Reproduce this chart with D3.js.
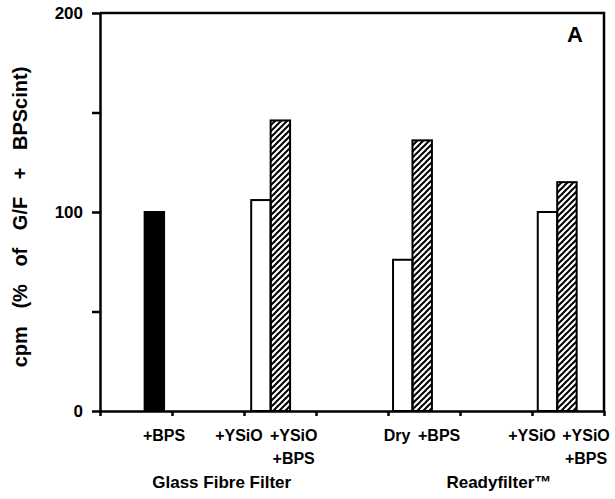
<!DOCTYPE html>
<html lang="en">
<head>
    <meta charset="UTF-8">
    <title>cpm bar chart A</title>
    <style>
        body { margin: 0; background: #fff; }
        svg text { font-family: "Liberation Sans", Arial, Helvetica, sans-serif; font-weight: bold; fill: #000; }
    </style>
</head>
<body>
    <div id="chart"></div>

    <script src="https://cdn.jsdelivr.net/npm/d3@7"></script>
    <script>
        // data
        const barLabels = [['+BPS'], ['+YSiO'], ['+YSiO', '+BPS'], ['Dry'], ['+BPS'], ['+YSiO'], ['+YSiO', '+BPS']];
        const barValues = [100, 106, 146, 76, 136, 100, 115];
        const barKinds = ['solid', 'open', 'hatched', 'open', 'hatched', 'open', 'hatched'];
        const groupNames = ['Glass Fibre Filter', 'Readyfilter™'];
        const yTicks = [0, 50, 100, 150, 200];
        const yTickLabels = [0, 100, 200];

        const w = 615;
        const h = 499;

        // layout (in x-axis units, 7 tick intervals)
        const barStart = [0.62, 2.10, 2.37, 4.07, 4.34, 6.08, 6.35];
        const barW = 0.27;
        const labelPos = [0.89, 1.93, 2.69, 4.125, 4.71, 6.0, 6.75];
        const groupPos = [1.69, 5.54];

        const xScale = d3.scaleLinear()
            .domain([0, 7])
            .range([100, 604]);
        const yScale = d3.scaleLinear()
            .domain([0, 200])
            .range([411, 13]);

        const svg = d3.select('#chart')
            .append('svg')
            .attr('width', w)
            .attr('height', h);

        svg.append('defs')
            .append('pattern')
            .attr('id', 'hatch')
            .attr('patternUnits', 'userSpaceOnUse')
            .attr('width', 6)
            .attr('height', 6)
            .append('path')
            .attr('d', 'M0,6 L6,0 M-1.5,1.5 L1.5,-1.5 M4.5,7.5 L7.5,4.5')
            .attr('stroke', '#000')
            .attr('stroke-width', 2);

        const fillFor = k => k === 'solid' ? '#000' : (k === 'hatched' ? 'url(#hatch)' : '#fff');

        svg.selectAll('rect.bar')
            .data(barValues)
            .enter()
            .append('rect')
            .attr('class', 'bar')
            .attr('x', (d, i) => xScale(barStart[i]))
            .attr('width', xScale(barW) - xScale(0))
            .attr('y', d => yScale(d))
            .attr('height', d => yScale(0) - yScale(d))
            .attr('fill', (d, i) => fillFor(barKinds[i]))
            .attr('stroke', '#000')
            .attr('stroke-width', 2);

        // axes
        const yAxis = d3.axisLeft(yScale)
            .tickValues(yTicks)
            .tickSize(8)
            .tickSizeOuter(0)
            .tickPadding(9)
            .tickFormat(d => yTickLabels.includes(d) ? d : '');
        const xAxis = d3.axisBottom(xScale)
            .ticks(7)
            .tickSize(5)
            .tickSizeOuter(0)
            .tickFormat('');

        const gy = svg.append('g')
            .attr('transform', `translate(${xScale(0)},0)`)
            .call(yAxis);
        gy.selectAll('text').style('font-size', '17px');

        const gx = svg.append('g')
            .attr('transform', `translate(0,${yScale(0)})`)
            .call(xAxis);

        svg.selectAll('.domain').attr('stroke-width', 2.5);
        svg.selectAll('.tick line').attr('stroke-width', 2.5);

        // top and right frame
        svg.append('path')
            .attr('d', `M${xScale(0)},${yScale(200)} H${xScale(7)} V${yScale(0)}`)
            .attr('fill', 'none')
            .attr('stroke', '#000')
            .attr('stroke-width', 2.5);

        // condition labels under the axis
        const lbl = svg.selectAll('text.cond')
            .data(barLabels)
            .enter()
            .append('text')
            .attr('class', 'cond')
            .attr('text-anchor', 'middle')
            .style('font-size', '16px');
        lbl.selectAll('tspan')
            .data((d, i) => d.map(t => ({t: t, i: i})))
            .enter()
            .append('tspan')
            .attr('x', d => xScale(labelPos[d.i]))
            .attr('y', (d, j) => 441 + j * 23)
            .text(d => d.t);

        svg.selectAll('text.group')
            .data(groupNames)
            .enter()
            .append('text')
            .attr('class', 'group')
            .attr('text-anchor', 'middle')
            .attr('x', (d, i) => xScale(groupPos[i]))
            .attr('y', 488)
            .style('font-size', '17px')
            .text(d => d);

        svg.append('text')
            .attr('transform', 'translate(27,217) rotate(-90)')
            .attr('text-anchor', 'middle')
            .style('font-size', '20px')
            .style('word-spacing', '12px')
            .text('cpm (% of G/F + BPScint)');

        svg.append('text')
            .attr('x', 575)
            .attr('y', 42)
            .attr('text-anchor', 'middle')
            .style('font-size', '22px')
            .text('A');
    </script>
</body>
</html>
